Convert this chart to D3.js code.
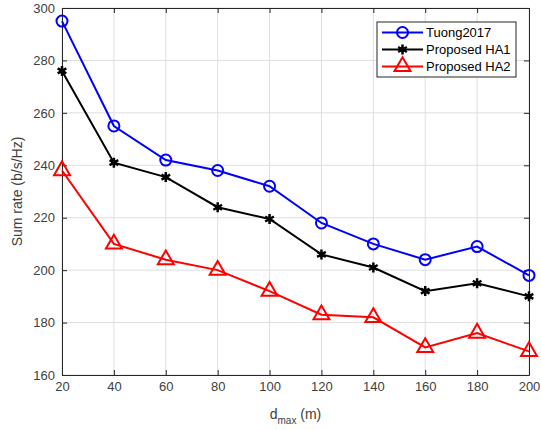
<!DOCTYPE html>
<html>
<head>
<meta charset="utf-8">
<script src="https://cdn.jsdelivr.net/npm/d3@7"></script>
<style>
  body { margin: 0; background: #fff; }
  svg { font-family: "Liberation Sans", Arial, sans-serif; }
</style>
</head>
<body>
<div id="chart"></div>
<script>
// data
const dmax = [20, 40, 60, 80, 100, 120, 140, 160, 180, 200];
const tuong2017 = [295, 255, 242, 238, 232, 218, 210, 204, 209, 198];
const proposedHA1 = [276, 241, 235.5, 224, 219.5, 206, 201, 192, 195, 190];
const proposedHA2 = [238, 210, 204, 200, 192, 183, 182, 170.5, 176, 169];
const xTicks = [20, 40, 60, 80, 100, 120, 140, 160, 180, 200];
const yTicks = [160, 180, 200, 220, 240, 260, 280, 300];
const seriesNames = ["Tuong2017", "Proposed HA1", "Proposed HA2"];

const width = 541, height = 430;
const margin = {top: 8, right: 12, bottom: 55, left: 62};

const svg = d3.select("#chart").append("svg")
  .attr("width", width)
  .attr("height", height);

const x = d3.scaleLinear().domain([20, 200]).range([margin.left, width - margin.right]);
const y = d3.scaleLinear().domain([160, 300]).range([height - margin.bottom, margin.top]);

// grid
const grid = svg.append("g").attr("stroke", "#dedede").attr("stroke-width", 1);
grid.selectAll(".gx").data(xTicks).enter().append("line")
  .attr("x1", d => x(d)).attr("x2", d => x(d))
  .attr("y1", margin.top).attr("y2", height - margin.bottom);
grid.selectAll(".gy").data(yTicks).enter().append("line")
  .attr("x1", margin.left).attr("x2", width - margin.right)
  .attr("y1", d => y(d)).attr("y2", d => y(d));

// axes (ticks point inward like matlab)
svg.append("g")
  .attr("transform", `translate(0,${height - margin.bottom})`)
  .call(d3.axisBottom(x).tickValues(xTicks).tickSizeInner(-5).tickSizeOuter(0).tickPadding(7));
svg.append("g")
  .attr("transform", `translate(${margin.left},0)`)
  .call(d3.axisLeft(y).tickValues(yTicks).tickSizeInner(-5).tickSizeOuter(0).tickPadding(7));
// mirrored ticks on top / right
svg.append("g")
  .attr("transform", `translate(0,${margin.top})`)
  .call(d3.axisTop(x).tickValues(xTicks).tickSizeInner(-5).tickSizeOuter(0).tickFormat(""));
svg.append("g")
  .attr("transform", `translate(${width - margin.right},0)`)
  .call(d3.axisRight(y).tickValues(yTicks).tickSizeInner(-5).tickSizeOuter(0).tickFormat(""));

svg.selectAll(".domain").attr("stroke", "#262626");
svg.selectAll(".tick line").attr("stroke", "#262626");
svg.selectAll(".tick text").attr("fill", "#404040").style("font-size", "13px");

// axis labels
svg.append("text")
  .attr("transform", `translate(22,${(margin.top + height - margin.bottom) / 2}) rotate(-90)`)
  .attr("text-anchor", "middle")
  .attr("fill", "#404040")
  .style("font-size", "14px")
  .text("Sum rate (b/s/Hz)");

const xl = svg.append("text")
  .attr("x", x(110))
  .attr("y", 419)
  .attr("text-anchor", "middle")
  .attr("fill", "#404040")
  .style("font-size", "14px");
xl.append("tspan").text("d");
xl.append("tspan").attr("dy", 5).style("font-size", "10px").text("max");
xl.append("tspan").attr("dy", -5).text(" (m)");

// series
const series = [
  {name: seriesNames[0], values: tuong2017, color: "#0000ff", marker: "circle"},
  {name: seriesNames[1], values: proposedHA1, color: "#000000", marker: "star"},
  {name: seriesNames[2], values: proposedHA2, color: "#ff0000", marker: "triangle"}
];

const line = d3.line().x((d, i) => x(dmax[i])).y(d => y(d));

function drawMarker(g, type, color, cx, cy) {
  if (type === "circle") {
    g.append("circle").attr("cx", cx).attr("cy", cy).attr("r", 5.5)
      .attr("fill", "none").attr("stroke", color).attr("stroke-width", 2);
  } else if (type === "triangle") {
    g.append("path")
      .attr("d", d3.symbol().type(d3.symbolTriangle).size(110)())
      .attr("transform", `translate(${cx},${cy})`)
      .attr("fill", "none").attr("stroke", color).attr("stroke-width", 2);
  } else {
    // asterisk-ish blob
    g.append("path")
      .attr("d", d3.symbol().type(d3.symbolAsterisk).size(70)())
      .attr("transform", `translate(${cx},${cy})`)
      .attr("fill", "none").attr("stroke", color).attr("stroke-width", 2.5);
    g.append("circle").attr("cx", cx).attr("cy", cy).attr("r", 2.5).attr("fill", color);
  }
}

series.forEach(s => {
  svg.append("path")
    .datum(s.values)
    .attr("d", line)
    .attr("fill", "none")
    .attr("stroke", s.color)
    .attr("stroke-width", 2);
  const mg = svg.append("g");
  s.values.forEach((v, i) => drawMarker(mg, s.marker, s.color, x(dmax[i]), y(v)));
});

// legend
const lg = svg.append("g").attr("transform", "translate(377,22)");
lg.append("rect").attr("width", 139).attr("height", 55)
  .attr("fill", "#fff").attr("stroke", "#262626").attr("stroke-width", 1);
series.forEach((s, i) => {
  const ly = 10.5 + i * 17;
  lg.append("line").attr("x1", 5).attr("x2", 46).attr("y1", ly).attr("y2", ly)
    .attr("stroke", s.color).attr("stroke-width", 2);
  drawMarker(lg, s.marker, s.color, 25.5, ly);
  lg.append("text").attr("x", 49).attr("y", ly + 4.5)
    .attr("fill", "#000").style("font-size", "13px").text(s.name);
});
</script>
</body>
</html>
